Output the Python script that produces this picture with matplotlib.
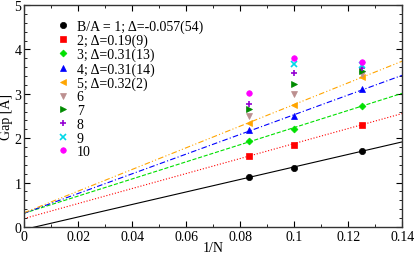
import matplotlib
matplotlib.use("Agg")
import matplotlib.pyplot as plt
import numpy as np
from matplotlib.ticker import MultipleLocator

plt.rcParams['font.family'] = ['Liberation Serif', 'DejaVu Serif']
plt.rcParams['mathtext.fontset'] = 'stix'

inv_n = [1/12, 1/10, 1/8]
labels = ["B/A = 1; Δ=-0.057(54)", "2; Δ=0.19(9)", "3; Δ=0.31(13)", "4; Δ=0.31(14)",
          "5; Δ=0.32(2)", "6", "7", "8", "9", "10"]
gaps = [
    [1.12, 1.34, 1.72],
    [1.60, 1.85, 2.30],
    [1.93, 2.20, 2.73],
    [2.18, 2.50, 3.11],
    [2.35, 2.76, 3.37],
    [2.50, 2.99, 3.44],
    [2.65, 3.23, 3.52],
    [2.78, 3.47, 3.59],
    [None, 3.67, 3.65],
    [3.03, 3.80, 3.72],
]
fit_intercept = [-0.057, 0.19, 0.31, 0.31, 0.32]
fit_slope = [14.1, 16.9, 19.3, 22.2, 24.4]

colors = ['black', 'red', '#00e000', 'blue', '#ffa500', '#bc8f8f', '#008b00', '#9400d3', '#00d8e8', '#ff00ff']
markers = ['o', 's', 'D', '^', '<', 'v', '>', '+', 'x', 'o']
msizes = [4.5, 4, 3.5, 4.5, 4.5, 4.5, 4.5, 5, 4, 4]
lstyles = ['-', ':', '--', (0, (5, 2, 1, 2)), (0, (5, 2, 1, 2, 1, 2))]

fig = plt.figure(figsize=(4.15, 2.55), dpi=100)
ax = fig.add_axes([0.058, 0.106, 0.911, 0.870])

xf = np.array([0.0, 0.14])
for i in range(5):
    ax.plot(xf, fit_intercept[i] + fit_slope[i] * xf, color=colors[i], ls=lstyles[i], lw=0.8)

for i in range(10):
    xs = [x for x, g in zip(inv_n, gaps[i]) if g is not None]
    ys = [g for g in gaps[i] if g is not None]
    ax.plot(xs, ys, ls='none', marker=markers[i], color=colors[i], ms=msizes[i],
            mew=1.2 if markers[i] in '+x' else 0.5, label=labels[i])

ax.set_xlim(0, 0.14)
ax.set_ylim(0, 5)
ax.xaxis.set_major_locator(MultipleLocator(0.02))
ax.xaxis.set_minor_locator(MultipleLocator(0.01))
ax.yaxis.set_major_locator(MultipleLocator(1))
ax.yaxis.set_minor_locator(MultipleLocator(0.2))
ax.set_xticks(np.arange(0, 0.141, 0.02))
ax.set_xticklabels(['0', '0.02', '0.04', '0.06', '0.08', '0.1', '0.12', '0.14'])
ax.tick_params(which='both', direction='in', top=True, right=True, labelsize=10, pad=2)
ax.tick_params(which='major', length=4, width=0.8)
ax.tick_params(which='minor', length=2, width=0.6)
for s in ax.spines.values():
    s.set_linewidth(1.0)
    s.set_color('#333333')
ax.set_xlabel('1/N', fontsize=10, labelpad=-1)
ax.set_ylabel('Gap [A]', fontsize=10, labelpad=1)

leg = ax.legend(loc='upper left', bbox_to_anchor=(0.088, 0.935), frameon=False, fontsize=10,
                handlelength=0.8, handletextpad=0.6, labelspacing=0.05, borderaxespad=0,
                borderpad=0)

fig.savefig('out.png', dpi=100)
